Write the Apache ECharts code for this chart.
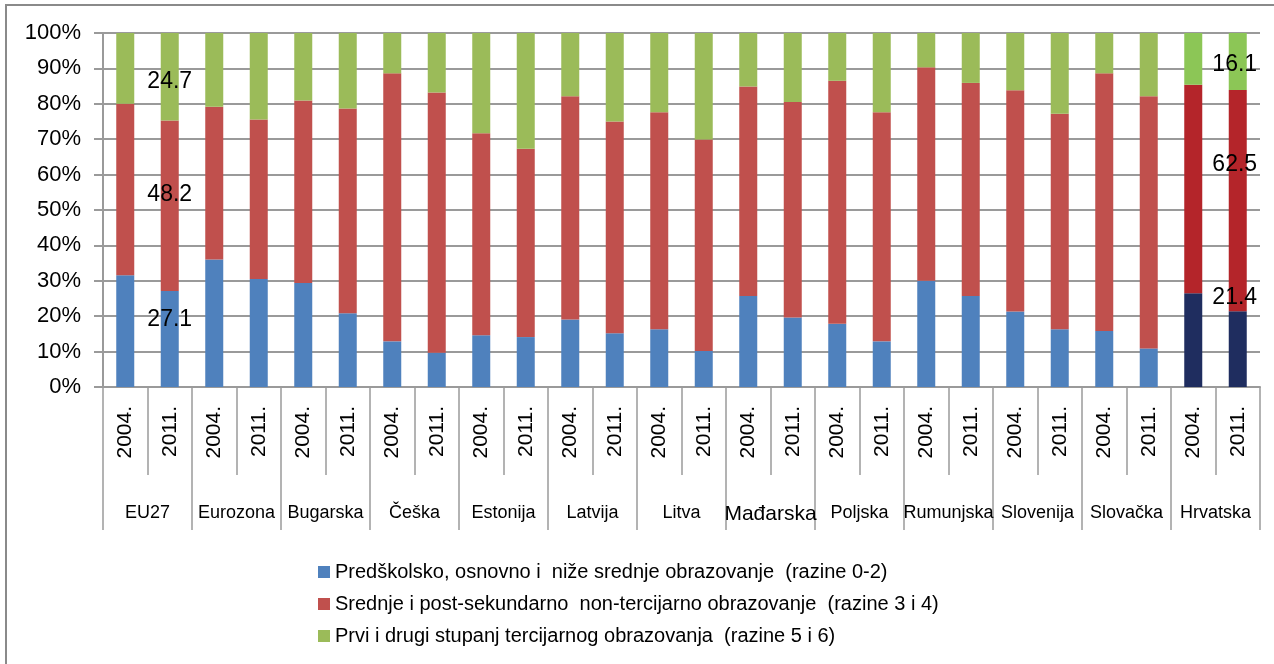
<!DOCTYPE html>
<html>
<head>
<meta charset="utf-8">
<script src="https://cdn.jsdelivr.net/npm/echarts@6/dist/echarts.min.js"></script>
<style>
  html, body { margin: 0; padding: 0; background: #fff; }
  #chart { width: 1274px; height: 664px; }
</style>
</head>
<body>
<div id="chart"></div>
<script>
// države / skupine
const groups = ['EU27', 'Eurozona', 'Bugarska', 'Češka', 'Estonija', 'Latvija', 'Litva',
  'Mađarska', 'Poljska', 'Rumunjska', 'Slovenija', 'Slovačka', 'Hrvatska'];
const years = ['2004.', '2011.'];

const seriesNames = [
  'Predškolsko, osnovno i  niže srednje obrazovanje  (razine 0-2)',
  'Srednje i post-sekundarno  non-tercijarno obrazovanje  (razine 3 i 4)',
  'Prvi i drugi stupanj tercijarnog obrazovanja  (razine 5 i 6)'
];

// razine 0-2
const low = [31.6, 27.1, 36.0, 30.5, 29.4, 20.8, 12.9, 9.7, 14.6, 14.1, 19.1, 15.2, 16.3,
  10.2, 25.7, 19.6, 17.9, 12.9, 30.0, 25.7, 21.3, 16.3, 15.8, 10.9, 26.5, 21.4];
// razine 3 i 4
const mid = [48.4, 48.2, 43.2, 45.1, 51.5, 57.9, 75.7, 73.5, 57.1, 53.2, 63.0, 59.8, 61.3,
  59.7, 59.2, 60.9, 68.6, 64.7, 60.3, 60.2, 62.5, 60.9, 72.8, 71.2, 58.9, 62.5];
// razine 5 i 6
const high = [20.0, 24.7, 20.8, 24.4, 19.1, 21.3, 11.4, 16.8, 28.3, 32.7, 17.9, 25.0, 22.4,
  30.1, 15.1, 19.5, 13.5, 22.4, 9.7, 14.1, 16.2, 22.8, 11.4, 17.9, 14.6, 16.1];

const yLabels = groups.flatMap(() => years);

const baseColors = ['#4F81BD', '#C0504D', '#9BBB59'];
const hrColors = ['#1F2D5F', '#B4252A', '#8CC656'];
const hrStart = 24;

// oznake vrijednosti samo za EU27 2011. i Hrvatska 2011.
const labelOffsets = {
  1: [[0, -19], [0, -11], [0, 5]],
  25: [[-3, -51], [-3, -36], [-3, 3]]
};

const fontFamily = "'Liberation Sans', Arial, sans-serif";
const gray = '#9a9a9a';

function buildData(values, s) {
  return values.map((v, i) => {
    const item = { value: v };
    if (i >= hrStart) item.itemStyle = { color: hrColors[s] };
    if (labelOffsets[i]) {
      item.label = {
        show: true,
        position: 'inside',
        offset: labelOffsets[i][s],
        color: '#000',
        fontSize: 23,
        fontFamily: fontFamily
      };
    }
    return item;
  });
}

const chart = echarts.init(document.getElementById('chart'));

const option = {
  animation: false,
  textStyle: { fontFamily: fontFamily },
  graphic: [
    {
      type: 'rect',
      shape: { x: 6, y: 5, width: 1400, height: 800 },
      style: { fill: 'none', stroke: '#8a8a8a', lineWidth: 2 },
      silent: true
    }
  ],
  grid: { left: 103, right: 14, top: 33, bottom: 277 },
  legend: {
    orient: 'vertical',
    left: 313,
    top: 557,
    itemGap: 12,
    itemWidth: 12,
    itemHeight: 12,
    icon: 'rect',
    textStyle: { fontSize: 20, color: '#000', fontFamily: fontFamily },
    data: seriesNames
  },
  xAxis: [
    {
      type: 'category',
      position: 'bottom',
      data: yLabels,
      axisLine: { lineStyle: { color: gray, width: 2 } },
      axisTick: { show: true, interval: 0, length: 88, lineStyle: { color: gray, width: 1.5 } },
      axisLabel: {
        interval: 0,
        rotate: 90,
        margin: 19,
        fontSize: 21,
        color: '#000'
      },
      splitLine: { show: false }
    },
    {
      type: 'category',
      position: 'bottom',
      offset: 0,
      data: groups,
      axisLine: { show: false },
      axisTick: { show: true, interval: 0, length: 143, lineStyle: { color: gray, width: 1.5 } },
      axisLabel: {
        interval: 0,
        margin: 117,
        fontSize: 18,
        color: '#000',
        formatter: (v) => v === 'Mađarska' ? '{big|' + v + '}' : v,
        rich: { big: { fontSize: 21, color: '#000' } }
      },
      splitLine: { show: false }
    }
  ],
  yAxis: {
    type: 'value',
    min: 0,
    max: 100,
    interval: 10,
    axisLine: { show: true, lineStyle: { color: gray, width: 2 } },
    axisTick: { show: true, length: 9, lineStyle: { color: gray, width: 2 } },
    axisLabel: { formatter: '{value}%', fontSize: 22, color: '#000', margin: 22 },
    splitLine: { lineStyle: { color: gray, width: 2 } }
  },
  series: [low, mid, high].map((vals, s) => ({
    name: seriesNames[s],
    type: 'bar',
    stack: 'total',
    xAxisIndex: 0,
    barWidth: 18,
    itemStyle: { color: baseColors[s] },
    data: buildData(vals, s)
  }))
};

chart.setOption(option);
</script>
</body>
</html>
